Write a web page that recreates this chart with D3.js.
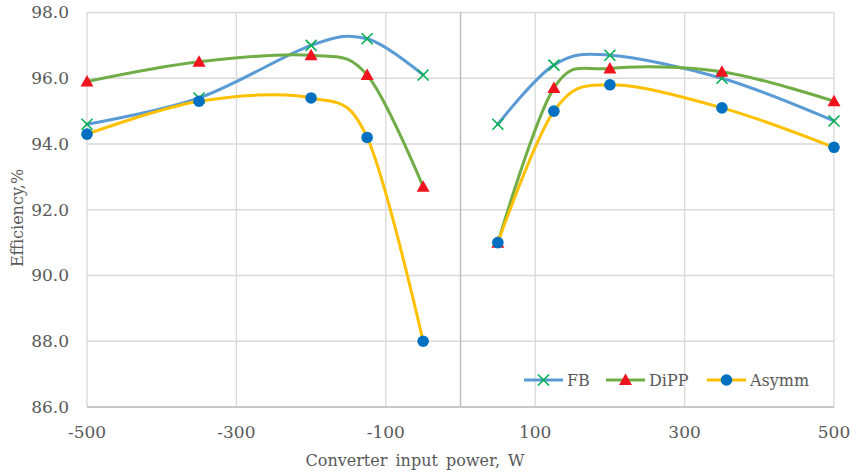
<!DOCTYPE html>
<html lang="en">
<head>
<meta charset="UTF-8">
<script src="https://d3js.org/d3.v7.min.js"></script>
<title>Converter efficiency</title>
<style>
  body { margin: 0; background: #fff; }
  text { font-family: "DejaVu Serif", serif; fill: #595959; }
</style>
</head>
<body>
<svg id="chart" width="856" height="473"></svg>
<script>
// input power, W
var power = [-500, -350, -200, -125, -50, 50, 125, 200, 350, 500];
// efficiency, %
var fb    = [94.6, 95.4, 97.0, 97.2, 96.1, 94.6, 96.4, 96.7, 96.0, 94.7];
var dipp  = [95.9, 96.5, 96.7, 96.1, 92.7, 91.0, 95.7, 96.3, 96.2, 95.3];
var asymm = [94.3, 95.3, 95.4, 94.2, 88.0, 91.0, 95.0, 95.8, 95.1, 93.9];
var seriesNames = ["FB", "DiPP", "Asymm"];
var xTicks = [-500, -300, -100, 100, 300, 500];
var yTicks = [86, 88, 90, 92, 94, 96, 98];

var series = [
  {name: seriesNames[0], values: fb,    line: "#5B9BD5", marker: "x",   mcolor: "#00B050"},
  {name: seriesNames[1], values: dipp,  line: "#70AD47", marker: "tri", mcolor: "#F0141E"},
  {name: seriesNames[2], values: asymm, line: "#FFC000", marker: "dot", mcolor: "#0070C0"}
];

var pL = 87, pR = 834, pT = 12.5, pB = 407;
var svg = d3.select("#chart");

var x = d3.scaleLinear().domain([-500, 500]).range([pL, pR]);
var y = d3.scaleLinear().domain([86, 98]).range([pB, pT]);

// gridlines
svg.append("g").selectAll("line").data(yTicks).enter().append("line")
  .attr("x1", pL).attr("x2", pR)
  .attr("y1", d => y(d)).attr("y2", d => y(d))
  .attr("stroke", "#D9D9D9").attr("stroke-width", 1.3);
svg.append("g").selectAll("line").data(xTicks).enter().append("line")
  .attr("y1", pT).attr("y2", pB)
  .attr("x1", d => x(d)).attr("x2", d => x(d))
  .attr("stroke", "#D9D9D9").attr("stroke-width", 1.3);

// axis lines
svg.append("line").attr("x1", x(0)).attr("x2", x(0)).attr("y1", pT).attr("y2", pB)
  .attr("stroke", "#BFBFBF").attr("stroke-width", 1.5);
svg.append("line").attr("x1", pL).attr("x2", pR).attr("y1", pB).attr("y2", pB)
  .attr("stroke", "#BFBFBF").attr("stroke-width", 1.5);

// tick labels
svg.append("g").selectAll("text").data(yTicks).enter().append("text")
  .attr("x", 69).attr("y", d => y(d)).attr("dy", "0.35em")
  .attr("text-anchor", "end").style("font-size", "17px")
  .text(d => d3.format(".1f")(d));
svg.append("g").selectAll("text").data(xTicks).enter().append("text")
  .attr("x", d => x(d)).attr("y", 438)
  .attr("text-anchor", "middle").style("font-size", "17px")
  .text(d => d);

// axis titles
svg.append("text").attr("x", 415).attr("y", 466).attr("text-anchor", "middle")
  .style("font-size", "16px").style("word-spacing", "3px")
  .text("Converter input power, W");
svg.append("text").attr("transform", "translate(23,218) rotate(-90)")
  .attr("text-anchor", "middle").style("font-size", "16px")
  .text("Efficiency,%");

var line = d3.line().x(d => x(d[0])).y(d => y(d[1])).curve(d3.curveCardinal.tension(0));

function drawMarker(g, type, color, cx, cy) {
  if (type === "x") {
    var s = 5.5;
    g.append("path")
      .attr("d", "M" + (cx - s) + "," + (cy - s) + "L" + (cx + s) + "," + (cy + s) +
                 "M" + (cx - s) + "," + (cy + s) + "L" + (cx + s) + "," + (cy - s))
      .attr("stroke", color).attr("stroke-width", 1.6).attr("fill", "none");
  } else if (type === "tri") {
    g.append("path")
      .attr("d", "M" + cx + "," + (cy - 6.5) + "L" + (cx + 6.5) + "," + (cy + 5) + "L" + (cx - 6.5) + "," + (cy + 5) + "Z")
      .attr("fill", color);
  } else {
    g.append("circle").attr("cx", cx).attr("cy", cy).attr("r", 5.8).attr("fill", color);
  }
}

series.forEach(function(s) {
  var pts = power.map((p, i) => [p, s.values[i]]);
  var neg = pts.filter(d => d[0] < 0), pos = pts.filter(d => d[0] > 0);
  [neg, pos].forEach(function(seg) {
    svg.append("path").datum(seg).attr("d", line)
      .attr("fill", "none").attr("stroke", s.line).attr("stroke-width", 3)
      .attr("stroke-linecap", "round");
  });
});
series.forEach(function(s) {
  var g = svg.append("g");
  power.forEach((p, i) => drawMarker(g, s.marker, s.mcolor, x(p), y(s.values[i])));
});

// legend
var legX = [524, 606, 707];
series.forEach(function(s, i) {
  var g = svg.append("g");
  g.append("line").attr("x1", legX[i]).attr("x2", legX[i] + 39).attr("y1", 380).attr("y2", 380)
    .attr("stroke", s.line).attr("stroke-width", 3);
  drawMarker(g, s.marker, s.mcolor, legX[i] + 19.5, 380);
  g.append("text").attr("x", legX[i] + 43).attr("y", 380).attr("dy", "0.35em")
    .style("font-size", "16px").text(s.name);
});
</script>
</body>
</html>
